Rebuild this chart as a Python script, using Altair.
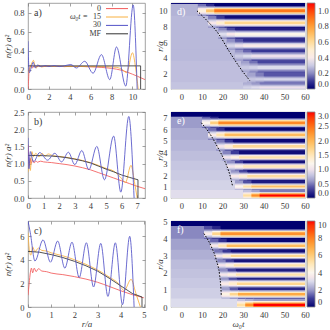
import altair as alt
import pandas as pd

FONT = "Liberation Serif"
TXT = "#3a3a3a"
FRAME = "#8a8a8a"

SERIES = ["0", "15", "30", "MF"]
SERIES_COLORS = ["#f25a5a", "#f8b040", "#5252c8", "#333333"]

# ---------------- panel a ----------------
A_R_0 = [0.0, 0.05, 0.1, 0.2, 0.3, 0.45, 0.6, 0.8, 1.0, 1.5, 2.0, 2.5, 3.0, 3.5, 4.0, 4.5, 5.0, 5.5, 6.0, 6.5, 7.0, 7.5, 8.0, 8.5, 9.0, 9.5, 10.0, 10.5, 11.2]
A_N_0 = [0.0, 0.08, 0.2, 0.23, 0.25, 0.22, 0.245, 0.23, 0.24, 0.235, 0.24, 0.235, 0.238, 0.234, 0.237, 0.235, 0.236, 0.234, 0.232, 0.23, 0.226, 0.222, 0.216, 0.207, 0.195, 0.176, 0.155, 0.132, 0.098]
A_R_15 = [0.0, 0.1, 0.25, 0.4, 0.52, 0.65, 0.8, 1.0, 1.3, 1.7, 2.2, 3.0, 4.0, 5.0, 6.0, 7.0, 7.8, 8.5, 9.0, 9.45, 10.0, 10.3, 10.55]
A_N_15 = [0.17, 0.19, 0.24, 0.28, 0.3, 0.25, 0.22, 0.25, 0.23, 0.24, 0.235, 0.237, 0.235, 0.236, 0.234, 0.235, 0.232, 0.226, 0.205, 0.17, 0.38, 0.22, 0.0]
A_R_30 = [0.0, 0.05, 0.12, 0.3, 0.5, 0.7, 0.9, 1.2, 1.6, 2.0, 2.5, 3.0, 3.5, 4.1, 4.63, 5.43, 6.23, 7.03, 7.83, 8.47, 9.36, 10.07, 10.45]
A_N_30 = [0.5, 0.3, 0.17, 0.22, 0.28, 0.22, 0.25, 0.235, 0.245, 0.235, 0.245, 0.235, 0.243, 0.256, 0.22, 0.29, 0.165, 0.36, 0.098, 0.44, 0.03, 0.88, 0.0]
A_R_MF = [0.0, 10.78, 10.78]
A_N_MF = [0.242, 0.242, 0.0]

# ---------------- panel b ----------------
B_R_0 = [0.0, 0.05, 0.1, 0.15, 0.2, 0.3, 0.4, 0.5, 0.6, 0.8, 1.0, 1.5, 2.0, 2.5, 3.0, 3.5, 4.0, 4.5, 5.0, 5.5, 6.0, 6.5, 7.0, 7.5]
B_N_0 = [1.55, 1.2, 0.95, 1.15, 1.0, 1.1, 1.02, 1.08, 1.04, 1.07, 1.05, 1.03, 1.0, 0.97, 0.93, 0.88, 0.82, 0.74, 0.66, 0.58, 0.5, 0.42, 0.34, 0.27]
B_R_15 = [0.0, 0.08, 0.15, 0.25, 0.35, 0.5, 0.7, 0.9, 1.1, 1.3, 1.6, 2.0, 2.5, 3.0, 3.5, 4.0, 4.5, 5.0, 5.5, 5.9, 6.25, 6.6, 6.85, 7.0]
B_N_15 = [0.75, 1.1, 0.8, 1.35, 1.2, 1.3, 1.2, 1.3, 1.22, 1.28, 1.23, 1.21, 1.18, 1.14, 1.09, 1.03, 0.95, 0.86, 0.78, 0.62, 0.45, 0.95, 0.4, 0.0]
B_R_30 = [0.0, 0.06, 0.15, 0.35, 0.75, 1.25, 1.72, 2.15, 2.59, 3.0, 3.45, 3.9, 4.41, 4.9, 5.49, 5.95, 6.46, 6.8]
B_N_30 = [1.75, 0.85, 1.35, 1.05, 1.32, 1.1, 1.3, 1.05, 1.33, 0.97, 1.38, 0.82, 1.5, 0.53, 1.8, 0.17, 2.37, 0.0]
B_R_MF = [0.0, 0.5, 1.0, 1.5, 2.0, 2.5, 3.0, 3.5, 4.0, 4.5, 5.0, 5.5, 6.0, 6.5, 7.05, 7.05]
B_N_MF = [1.24, 1.235, 1.23, 1.22, 1.2, 1.17, 1.13, 1.08, 1.02, 0.93, 0.84, 0.76, 0.67, 0.6, 0.53, 0.0]

# ---------------- panel c ----------------
C_R_0 = [0.0, 0.05, 0.1, 0.15, 0.2, 0.27, 0.35, 0.45, 0.6, 0.8, 1.0, 1.5, 2.0, 2.5, 3.0, 3.5, 4.0, 4.5, 5.0]
C_N_0 = [1.0, 2.0, 2.9, 3.3, 2.9, 3.3, 3.0, 3.25, 3.05, 3.0, 2.88, 2.75, 2.58, 2.37, 2.1, 1.75, 1.38, 1.05, 0.78]
C_R_15 = [0.0, 0.05, 0.12, 0.2, 0.3, 0.45, 0.6, 0.8, 1.0, 1.5, 2.0, 2.5, 3.0, 3.5, 3.9, 4.15, 4.45, 4.65, 4.85]
C_N_15 = [6.3, 5.0, 4.4, 5.1, 4.7, 5.0, 4.8, 4.75, 4.6, 4.35, 4.02, 3.62, 3.15, 2.55, 2.0, 1.4, 2.35, 1.2, 0.0]
C_R_30 = [0.0, 0.1, 0.3, 0.65, 0.97, 1.28, 1.59, 1.9, 2.21, 2.52, 2.83, 3.14, 3.45, 3.77, 4.08, 4.39, 4.58]
C_N_30 = [7.3, 6.3, 3.9, 5.7, 3.8, 5.6, 3.3, 5.5, 2.5, 5.45, 1.7, 5.4, 0.9, 5.45, 0.2, 6.0, 0.0]
C_R_MF = [0.0, 0.5, 1.0, 1.5, 2.0, 2.5, 3.0, 3.5, 4.0, 4.5, 4.92, 4.92]
C_N_MF = [4.72, 4.65, 4.45, 4.2, 3.88, 3.5, 3.05, 2.45, 1.8, 1.15, 0.85, 0.0]

# ---------------- heatmaps: bands ----------------
T_MIN, T_MAX = -5, 60
CMAP = ["#000070", "#3c3c98", "#9c9cca", "#dcdcec", "#fbf6ee", "#ffe8b8",
        "#ffcc78", "#ffaa44", "#ff8020", "#ff480a", "#ff0000"]

D_BAND_R = [10.0, 8.45, 7.0, 5.55, 4.2, 2.75, 1.25, 0.2]
D_BAND_V = [0.9, 0.62, 0.45, 0.4, 0.36, 0.33, 0.32, 0.36]
D_BAND_T = [8, 13, 18, 22, 26, 29, 32, 30]
D_BG = [0.26, 0.27, 0.27, 0.27, 0.27, 0.28, 0.28, 0.29]
D_GAP = [0.0, 0.02, 0.05, 0.08, 0.1, 0.12, 0.14, 0.18]
D_EDGE, D_RMAX, D_CMAX = 10.75, 11.0, 1.1
D_LINE_T = [7.6, 13.0, 18.2, 23.2, 28.0, 33.2]
D_LINE_R = [10.0, 8.6, 7.0, 4.83, 2.89, 1.08]

E_BAND_R = [6.55, 5.5, 4.5, 3.55, 2.75, 1.9, 1.0, 0.22]
E_BAND_V = [2.35, 1.95, 1.65, 1.55, 1.5, 1.6, 1.9, 3.0]
E_BAND_T = [10, 13, 17, 20, 22, 24, 26, 30]
E_BG = [0.6, 0.68, 0.72, 0.76, 0.8, 0.82, 0.86, 0.92]
E_GAP = [0.0, 0.02, 0.04, 0.06, 0.08, 0.1, 0.12, 0.5]
E_EDGE, E_RMAX, E_CMAX = 7.0, 7.5, 3.0
E_LINE_T = [9.7, 14.6, 17.8, 21.1, 23.5, 24.8]
E_LINE_R = [6.56, 5.39, 4.37, 3.2, 2.04, 1.08]

F_BAND_R = [4.3, 3.6, 3.0, 2.45, 1.9, 1.37, 0.75, 0.12]
F_BAND_V = [7.6, 6.5, 5.6, 5.2, 5.2, 5.6, 7.0, 10.0]
F_BAND_T = [11, 14, 16, 17.5, 18.5, 19, 19.5, 27]
F_BG = [1.8, 2.1, 2.3, 2.5, 2.6, 2.7, 2.8, 3.0]
F_GAP = [0.0, 0.1, 0.2, 0.3, 0.4, 0.5, 0.6, 2.0]
F_EDGE, F_RMAX, F_CMAX = 4.7, 5.05, 10.0
F_LINE_T = [11.0, 14.6, 17.0, 18.6, 19.1, 19.4]
F_LINE_R = [4.31, 3.53, 2.75, 1.86, 1.27, 0.69]

LW, LH = 117, 86
RW, RH = 134, 86


def ldf(rs, ns):
    return pd.DataFrame({"r": rs, "n": ns, "i": list(range(len(rs)))})


def left_panel(curves, xdom, xticks, ydom, yticks, yfmt, tag, xtitle=None, legend=False):
    xax = alt.Axis(values=xticks, title=xtitle, labelPadding=3, labelFlush=False,
                   grid=True, gridColor="#7a7a7a", gridWidth=0.7,
                   gridDash=[3, LH - 6, 3, 1000], minExtent=12, maxExtent=12, titlePadding=0.5)
    yax = alt.Axis(values=yticks, format=yfmt, title="n(r) a²", labelPadding=4,
                   grid=True, gridColor="#7a7a7a", gridWidth=0.7,
                   gridDash=[3, LW - 6, 3, 1000], minExtent=15, maxExtent=15, titlePadding=1)
    xs = alt.Scale(domain=xdom, nice=False, zero=False)
    ys = alt.Scale(domain=ydom, nice=False, zero=False)
    layers = []
    for (rs, ns), col, kind in zip(curves, SERIES_COLORS, ["m", "m", "m", "l"]):
        interp = "monotone" if kind == "m" else "linear"
        layers.append(
            alt.Chart(ldf(rs, ns)).mark_line(color=col, strokeWidth=0.85, interpolate=interp, clip=True)
            .encode(x=alt.X("r:Q", scale=xs, axis=xax), y=alt.Y("n:Q", scale=ys, axis=yax),
                    order="i:Q")
        )
    layers = [layers[0], layers[1], layers[3], layers[2]]
    layers.append(
        alt.Chart(pd.DataFrame({"t": [tag]})).mark_text(
            align="left", baseline="middle", font=FONT, fontSize=10, color=TXT)
        .encode(x=alt.value(6), y=alt.value(10), text="t:N")
    )
    if legend:
        for k, (lab, col) in enumerate(zip(SERIES, SERIES_COLORS)):
            yk = 5.6 + 8.4 * k
            layers.append(
                alt.Chart(pd.DataFrame({"t": [lab]})).mark_text(
                    align="right", baseline="middle", font=FONT, fontSize=8, color=TXT)
                .encode(x=alt.value(73), y=alt.value(yk), text="t:N"))
            layers.append(
                alt.Chart(pd.DataFrame({"t": [lab]})).mark_rule(color=col, strokeWidth=1)
                .encode(x=alt.value(78), x2=alt.value(100), y=alt.value(yk)))
        layers.append(
            alt.Chart(pd.DataFrame({"t": ["ω₀t ="]})).mark_text(
                align="right", baseline="middle", font=FONT, fontSize=8, fontStyle="italic", color=TXT)
            .encode(x=alt.value(60), y=alt.value(14), text="t:N"))
    return alt.layer(*layers).properties(width=LW, height=LH)


FADE = [(0.0, 4.0, 0.33), (4.0, 8.0, 0.67)]
PROFILE = [(0.36, 0.3), (0.24, 0.68), (0.12, 1.0)]


def build_heat(edge, br, bv, bt, bg, gap, rmax):
    rows = []
    n = len(br)
    ov = 0.012 * rmax
    rows.append(dict(t0=T_MIN, t1=T_MAX, r0=0.0, r1=rmax, v=0.0))
    zones = []
    for i in range(n):
        hi = edge if i == 0 else (br[i - 1] + br[i]) / 2
        lo = 0.0 if i == n - 1 else (br[i] + br[i + 1]) / 2
        sp = (br[i] - br[i + 1]) if i < n - 1 else (br[i - 1] - br[i])
        zones.append((lo, hi, sp))
    end = FADE[-1][1]
    for i, (lo, hi, sp) in enumerate(zones):
        t0 = bt[i]
        rows.append(dict(t0=T_MIN, t1=t0 + 0.3, r0=lo, r1=hi + ov, v=bg[i]))
        for a, b, w in FADE:
            rows.append(dict(t0=t0 + a, t1=t0 + b + 0.3, r0=lo, r1=hi + ov, v=bg[i] + w * (gap[i] - bg[i])))
        rows.append(dict(t0=t0 + end, t1=T_MAX, r0=lo, r1=hi + ov, v=gap[i]))
    for i, (lo, hi, sp) in enumerate(zones):
        t0 = bt[i]
        c = br[i]
        for frac, wp in PROFILE:
            r0 = max(0.0, c - frac * sp)
            r1 = c + frac * sp
            vlate = gap[i] + wp * (bv[i] - gap[i])
            for a, b, w in FADE:
                rows.append(dict(t0=t0 + a, t1=t0 + b + 0.3, r0=r0, r1=r1, v=bg[i] + w * (vlate - bg[i])))
            rows.append(dict(t0=t0 + end, t1=T_MAX, r0=r0, r1=r1, v=vlate))
    return pd.DataFrame(rows)


def right_panel(heat, lt, lr, rmax, yticks, cmax, cticks, cfmt, tag, xtitle=None):
    xs = alt.Scale(domain=[T_MIN, T_MAX], nice=False, zero=False)
    ys = alt.Scale(domain=[0, rmax], nice=False, zero=False)
    xax = alt.Axis(values=[0, 10, 20, 30, 40, 50, 60], title=xtitle, labelPadding=3, labelFlush=False,
                   minExtent=12, maxExtent=12, titlePadding=0.5)
    yax = alt.Axis(values=yticks, title="r/a", labelPadding=4, minExtent=7, maxExtent=7, titlePadding=0)
    rect = alt.Chart(heat).mark_rect(clip=True).encode(
        x=alt.X("t0:Q", scale=xs, axis=xax), x2="t1:Q",
        y=alt.Y("r0:Q", scale=ys, axis=yax), y2="r1:Q",
        color=alt.Color("v:Q", scale=alt.Scale(domain=[0, cmax], range=CMAP, clamp=True),
                        legend=alt.Legend(title=None, orient="right", offset=2, gradientLength=RH,
                                          gradientThickness=8, values=cticks, format=cfmt,
                                          labelFont=FONT, labelFontSize=8.5, labelColor=TXT,
                                          labelOffset=3, gradientStrokeColor=FRAME,
                                          gradientStrokeWidth=0.8, padding=0)),
    )
    line = alt.Chart(pd.DataFrame({"t": lt, "r": lr, "i": list(range(len(lt)))})).mark_line(
        color="black", strokeWidth=1, strokeDash=[1.5, 1.5], interpolate="monotone"
    ).encode(x=alt.X("t:Q", scale=xs, axis=xax), y=alt.Y("r:Q", scale=ys, axis=yax), order="i:Q")
    label = alt.Chart(pd.DataFrame({"t": [tag]})).mark_text(
        align="left", baseline="middle", font=FONT, fontSize=10, color="white"
    ).encode(x=alt.value(6), y=alt.value(9), text="t:N")
    return alt.layer(rect, line, label).properties(width=RW, height=RH)


pa = left_panel([(A_R_0, A_N_0), (A_R_15, A_N_15), (A_R_30, A_N_30), (A_R_MF, A_N_MF)],
                [0, 11.2], [0, 2, 4, 6, 8, 10], [0, 0.9], [0, 0.2, 0.4, 0.6, 0.8], ".1f", "a)", legend=True)
pb = left_panel([(B_R_0, B_N_0), (B_R_15, B_N_15), (B_R_30, B_N_30), (B_R_MF, B_N_MF)],
                [0, 7.5], [0, 1, 2, 3, 4, 5, 6, 7], [0, 2.5], [0, 0.5, 1.0, 1.5, 2.0, 2.5], ".1f", "b)")
pc = left_panel([(C_R_0, C_N_0), (C_R_15, C_N_15), (C_R_30, C_N_30), (C_R_MF, C_N_MF)],
                [0, 5.05], [0, 1, 2, 3, 4, 5], [0, 7.3], [0, 2, 4, 6], "d", "c)", xtitle="r/a")

pdd = right_panel(build_heat(D_EDGE, D_BAND_R, D_BAND_V, D_BAND_T, D_BG, D_GAP, D_RMAX),
                  D_LINE_T, D_LINE_R, D_RMAX, [0, 2, 4, 6, 8, 10], D_CMAX,
                  [0, 0.2, 0.4, 0.6, 0.8, 1.0], ".1f", "d)")
pe = right_panel(build_heat(E_EDGE, E_BAND_R, E_BAND_V, E_BAND_T, E_BG, E_GAP, E_RMAX),
                 E_LINE_T, E_LINE_R, E_RMAX, [0, 1, 2, 3, 4, 5, 6, 7], E_CMAX,
                 [0, 0.5, 1.0, 1.5, 2.0, 2.5, 3.0], ".1f", "e)")
pf = right_panel(build_heat(F_EDGE, F_BAND_R, F_BAND_V, F_BAND_T, F_BG, F_GAP, F_RMAX),
                 F_LINE_T, F_LINE_R, F_RMAX, [0, 1, 2, 3, 4, 5], F_CMAX,
                 [0, 2, 4, 6, 8, 10], "d", "f)", xtitle="ω₀t")

RES = dict(x="independent", y="independent", color="independent")

chart = (
    alt.concat(pa, pdd, pb, pe, pc, pf, columns=2,
               spacing={"row": 23, "column": 26}, bounds="flush")
    .resolve_scale(**RES)
    .properties(padding={"left": 2, "top": 2, "right": 0, "bottom": 0}, background="white")
    .configure_view(stroke=FRAME, strokeWidth=0.8)
    .configure_axis(labelFont=FONT, labelFontSize=8.5, labelColor=TXT, titleFont=FONT,
                    titleFontSize=9, titleColor=TXT, titleFontStyle="italic",
                    titleFontWeight="normal", domain=False, ticks=False)
)

chart.save("out.html", embed_options={"renderer": "svg", "actions": False})
